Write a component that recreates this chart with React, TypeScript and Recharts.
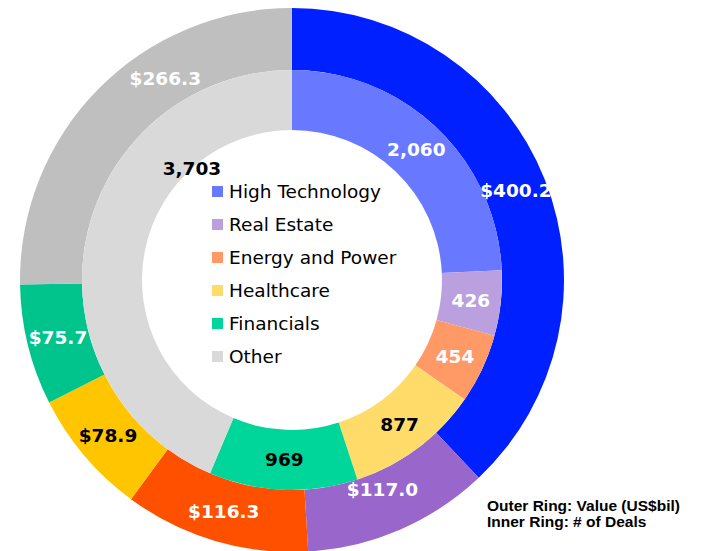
import React from 'react';
import { PieChart, Pie, Cell, Legend } from 'recharts';

const categories = ['High Technology', 'Real Estate', 'Energy and Power', 'Healthcare', 'Financials', 'Other'];
const valueUSbil = [400.2, 117.0, 116.3, 78.9, 75.7, 266.3];
const dealCounts = [2060, 426, 454, 877, 969, 3703];

const outerColors = ['#0020FF', '#9966CC', '#FF5000', '#FFC600', '#00C48C', '#BFBFBF'];
const innerColors = ['#6979FF', '#BBA0DF', '#FF9966', '#FFDC6A', '#00D59A', '#D9D9D9'];
const outerLabelColors = ['#fff', '#fff', '#fff', '#000', '#fff', '#fff'];
const innerLabelColors = ['#fff', '#fff', '#fff', '#000', '#000', '#000'];
// label nudges (angle shift in degrees, radius override) to mimic the original placement
const outerLabelNudge: Record<number, { da?: number; r?: number }> = { 1: { r: 228 }, 5: { da: -13.3, r: 238 } };
const innerLabelNudge: Record<number, { da?: number; r?: number }> = { 5: { da: -36.7, r: 150 } };

const outerData = categories.map((name, i) => ({ name, value: valueUSbil[i] }));
const innerData = categories.map((name, i) => ({ name, value: dealCounts[i] }));

const RADIAN = Math.PI / 180;
const FONT = '"DejaVu Sans", Verdana, sans-serif';

function makeLabel(fmt: (v: number) => string, colors: string[], nudge: Record<number, { da?: number; r?: number }>) {
  return (props: any) => {
    const { cx, cy, midAngle, innerRadius, outerRadius, index, value } = props;
    const n = nudge[index] || {};
    const ang = (midAngle + (n.da || 0)) * RADIAN;
    const r = n.r !== undefined ? n.r : (innerRadius + outerRadius) / 2;
    const x = cx + r * Math.cos(ang);
    const y = cy - r * Math.sin(ang);
    return (
      <text
        x={x}
        y={y}
        fill={colors[index]}
        textAnchor="middle"
        dominantBaseline="central"
        fontFamily={FONT}
        fontWeight="bold"
        fontSize={18.5}
      >
        {fmt(value)}
      </text>
    );
  };
}

const renderLegend = () => (
  <div style={{ fontFamily: FONT, fontSize: 18.5, color: '#000' }}>
    {categories.map((c, i) => (
      <div key={c} style={{ height: 33, display: 'flex', alignItems: 'center' }}>
        <span style={{ width: 11, height: 11, background: innerColors[i], display: 'inline-block', marginRight: 6 }} />
        <span>{c}</span>
      </div>
    ))}
  </div>
);

export default function App() {
  return (
    <div style={{ position: 'absolute', left: 0, top: 0, width: 703, height: 551, background: '#fff', overflow: 'hidden' }}>
      <PieChart width={703} height={551} margin={{ top: 0, right: 0, bottom: 0, left: 0 }}>
        <Pie
          data={outerData}
          dataKey="value"
          nameKey="name"
          cx={292}
          cy={280}
          innerRadius={210}
          outerRadius={272}
          startAngle={90}
          endAngle={-270}
          stroke="none"
          legendType="none"
          isAnimationActive={false}
          labelLine={false}
          label={makeLabel((v) => '$' + v.toFixed(1), outerLabelColors, outerLabelNudge)}
        >
          {outerData.map((d, i) => (
            <Cell key={d.name} fill={outerColors[i]} stroke="none" />
          ))}
        </Pie>
        <Pie
          data={innerData}
          dataKey="value"
          nameKey="name"
          cx={292}
          cy={280}
          innerRadius={150}
          outerRadius={210}
          startAngle={90}
          endAngle={-270}
          stroke="none"
          isAnimationActive={false}
          labelLine={false}
          label={makeLabel((v) => v.toLocaleString('en-US'), innerLabelColors, innerLabelNudge)}
        >
          {innerData.map((d, i) => (
            <Cell key={d.name} fill={innerColors[i]} stroke="none" />
          ))}
        </Pie>
        <Legend content={renderLegend} wrapperStyle={{ left: 212, top: 175, width: 220, bottom: 'auto' }} />
      </PieChart>
      <div
        style={{
          position: 'absolute',
          left: 487,
          top: 498,
          fontFamily: '"Liberation Sans", Arial, sans-serif',
          fontWeight: 'bold',
          fontSize: 15.5,
          lineHeight: '16px',
          color: '#000',
        }}
      >
        <div>Outer Ring: Value (US$bil)</div>
        <div>Inner Ring: # of Deals</div>
      </div>
    </div>
  );
}
